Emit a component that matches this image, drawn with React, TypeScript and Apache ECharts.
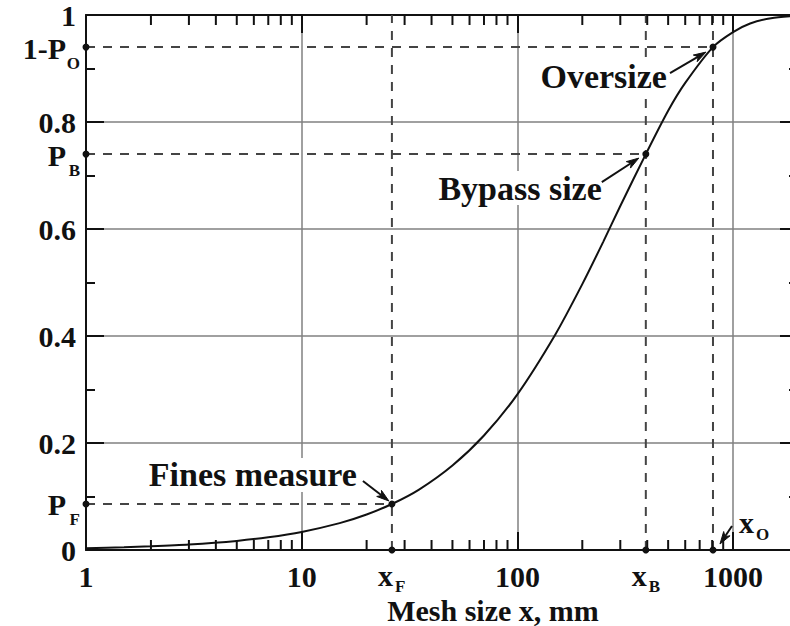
import React, { useEffect, useRef } from "react";
import * as echarts from "echarts";

// ---- data ----
const curveX = [1, 1.5, 2, 3, 5, 7, 10, 15, 20, 26.2, 35, 50, 70, 100, 150, 200, 250, 300, 394, 500, 600, 807, 1000, 1200, 1500, 2000];
const curveP = [0.0034, 0.0051, 0.0069, 0.0103, 0.017, 0.0238, 0.0338, 0.0502, 0.0664, 0.086, 0.113, 0.158, 0.214, 0.291, 0.403, 0.497, 0.576, 0.643, 0.74, 0.821, 0.873, 0.94, 0.968, 0.984, 0.994, 0.999];

const markX = [26.2, 394, 807]; // x_F, x_B, x_O
const markP = [0.086, 0.74, 0.94]; // P_F, P_B, 1-P_O
const markXMain = ["x", "x", "x"];
const markXSub = ["F", "B", "O"];
const markYMain = ["P", "P", "1-P"];
const markYSub = ["F", "B", "O"];
const markNames = ["Fines measure", "Bypass size", "Oversize"];

const xMajorTicks = [1, 10, 100, 1000];
const xMinorTicks = [2, 3, 4, 5, 6, 7, 8, 9, 20, 30, 40, 50, 60, 70, 80, 90, 200, 300, 400, 500, 600, 700, 800, 900];
const xMin = 1;
const xMax = 2000;
const yTicks = [0, 0.2, 0.4, 0.6, 0.8, 1];
const xAxisName = "Mesh size x, mm";

// ---- styles ----
const FONT = '"Liberation Serif", "Times New Roman", serif';
const INK = "#111";
const GRID = "#808080";
const DASH = "#444";

// annotation offsets (pixels relative to marked point)
const annoText = [
  [-35, -29],
  [-44, 34],
  [-46, 29],
];
const annoArrow = [
  [-29, -23, -3, -3],
  [-44, 28, -7, 4],
  [-43, 26, -7, 5],
];

function arrowEls(x0: number, y0: number, x1: number, y1: number) {
  const a = Math.atan2(y1 - y0, x1 - x0);
  const L = 13;
  const s = 0.3;
  const p1 = [x1 - L * Math.cos(a - s), y1 - L * Math.sin(a - s)];
  const p2 = [x1 - L * Math.cos(a + s), y1 - L * Math.sin(a + s)];
  const n = [x1 - 9 * Math.cos(a), y1 - 9 * Math.sin(a)];
  return [
    { type: "line", shape: { x1: x0, y1: y0, x2: n[0], y2: n[1] }, style: { stroke: INK, lineWidth: 2 } },
    { type: "polygon", shape: { points: [[x1, y1], p1, n, p2] }, style: { fill: INK, stroke: INK, lineWidth: 1 } },
  ];
}

function txt(text: string, x: number, y: number, size: number, align: string, extra: any = {}) {
  return {
    type: "text",
    style: {
      text,
      x,
      y,
      fontSize: size,
      fontWeight: "bold",
      fontFamily: FONT,
      fill: INK,
      align,
      verticalAlign: "middle",
      ...extra,
    },
  };
}

export default function App() {
  const ref = useRef<HTMLDivElement>(null);

  useEffect(() => {
    const chart = echarts.init(ref.current!, null, { renderer: "svg" });

    const axisLine = { show: true, onZero: false, lineStyle: { color: INK, width: 2 } };
    const majorTick = { show: true, inside: true, length: 18, lineStyle: { color: INK, width: 2 } };

    const option: any = {
      animation: false,
      backgroundColor: "#fff",
      grid: { left: 86, top: 15, width: 712, height: 535, containLabel: false, outerBoundsMode: "none" },
      xAxis: [
        {
          type: "log",
          logBase: 10,
          min: xMin,
          max: xMax,
          position: "bottom",
          axisLine,
          axisTick: majorTick,
          splitLine: { show: true, lineStyle: { color: GRID, width: 1.5 } },
          axisLabel: {
            margin: 11,
            fontSize: 30,
            fontWeight: "bold",
            fontFamily: FONT,
            color: INK,
            showMaxLabel: false,
            formatter: (v: number) => {
              const r = Math.round(v);
              return xMajorTicks.includes(r) ? String(r) : "";
            },
          },
          name: xAxisName,
          nameLocation: "middle",
          nameGap: 42,
          nameTextStyle: {
            fontSize: 30,
            fontWeight: "bold",
            fontFamily: FONT,
            color: INK,
            padding: [0, 0, 0, 102],
          },
        },
        {
          type: "log",
          logBase: 10,
          min: xMin,
          max: xMax,
          position: "top",
          axisLine,
          axisTick: majorTick,
          splitLine: { show: false },
          axisLabel: { show: false },
        },
      ],
      yAxis: [
        {
          type: "value",
          min: yTicks[0],
          max: yTicks[yTicks.length - 1],
          interval: yTicks[1] - yTicks[0],
          position: "left",
          axisLine,
          axisTick: majorTick,
          minorTick: { show: true, splitNumber: 2, length: 9, lineStyle: { color: INK, width: 2 } },
          splitLine: { show: true, lineStyle: { color: GRID, width: 1.5 } },
          axisLabel: {
            margin: 10,
            fontSize: 30,
            fontWeight: "bold",
            fontFamily: FONT,
            color: INK,
          },
        },
        {
          type: "value",
          min: yTicks[0],
          max: yTicks[yTicks.length - 1],
          interval: yTicks[1] - yTicks[0],
          position: "right",
          axisLine,
          axisTick: majorTick,
          minorTick: { show: true, splitNumber: 2, length: 9, lineStyle: { color: INK, width: 2 } },
          splitLine: { show: false },
          axisLabel: { show: false },
        },
      ],
      series: [
        // dashed guide lines
        {
          type: "custom",
          z: 2,
          silent: true,
          clip: false,
          data: markX.map((x, i) => [x, markP[i], i]),
          renderItem: (_p: any, api: any) => {
            const x = api.value(0);
            const p = api.value(1);
            const pt = api.coord([x, p]);
            const b = api.coord([x, yTicks[0]]);
            const t = api.coord([x, yTicks[yTicks.length - 1]]);
            const l = api.coord([xMin, p]);
            const ls = { stroke: DASH, lineWidth: 2, lineDash: [9, 8] };
            return {
              type: "group",
              children: [
                { type: "line", shape: { x1: b[0], y1: b[1], x2: t[0], y2: t[1] }, style: ls },
                { type: "line", shape: { x1: l[0], y1: l[1], x2: pt[0], y2: pt[1] }, style: ls },
              ],
            };
          },
        },
        // minor log ticks (bottom and top)
        {
          type: "custom",
          z: 2,
          silent: true,
          clip: false,
          data: xMinorTicks.map((v) => [v, 0]),
          renderItem: (_p: any, api: any) => {
            const v = api.value(0);
            const b = api.coord([v, yTicks[0]]);
            const t = api.coord([v, yTicks[yTicks.length - 1]]);
            const st = { stroke: INK, lineWidth: 2 };
            return {
              type: "group",
              children: [
                { type: "line", shape: { x1: b[0], y1: b[1], x2: b[0], y2: b[1] - 10 }, style: st },
                { type: "line", shape: { x1: t[0], y1: t[1], x2: t[0], y2: t[1] + 10 }, style: st },
              ],
            };
          },
        },
        // the curve
        {
          type: "line",
          z: 3,
          silent: true,
          data: curveX.map((x, i) => [x, curveP[i]]),
          showSymbol: false,
          smooth: 0.25,
          lineStyle: { color: INK, width: 2 },
        },
        // annotations and special axis labels
        {
          type: "custom",
          z: 4,
          silent: true,
          clip: false,
          data: markX.map((x, i) => [x, markP[i], i]),
          renderItem: (_p: any, api: any) => {
            const x = api.value(0);
            const p = api.value(1);
            const i = api.value(2);
            const pt = api.coord([x, p]);
            const b = api.coord([x, yTicks[0]]);
            const l = api.coord([xMin, p]);
            const children: any[] = [];
            children.push(
              txt(markNames[i], pt[0] + annoText[i][0], pt[1] + annoText[i][1], 34, "right", {
                backgroundColor: "#fff",
              })
            );
            const a = annoArrow[i];
            children.push(...arrowEls(pt[0] + a[0], pt[1] + a[1], pt[0] + a[2], pt[1] + a[3]));
            children.push(txt(markYMain[i], l[0] - 20, l[1] + 1, 30, "right"));
            children.push(txt(markYSub[i], l[0] - 6, l[1] + 16, 17, "right"));
            if (i < 2) {
              children.push(txt(markXMain[i], b[0] + 1, b[1] + 25, 30, "right"));
              children.push(txt(markXSub[i], b[0] + 3, b[1] + 36, 17, "left"));
            } else {
              children.push(txt(markXMain[i], b[0] + 26, b[1] - 28, 30, "left"));
              children.push(txt(markXSub[i], b[0] + 43, b[1] - 16, 17, "left"));
              children.push(...arrowEls(b[0] + 19, b[1] - 24, b[0] + 7, b[1] - 6));
            }
            return { type: "group", children };
          },
        },
        // dots
        {
          type: "custom",
          z: 5,
          silent: true,
          clip: false,
          data: markX.map((x, i) => [x, markP[i]]),
          renderItem: (_p: any, api: any) => {
            const x = api.value(0);
            const p = api.value(1);
            const pts = [api.coord([x, p]), api.coord([x, yTicks[0]]), api.coord([xMin, p])];
            return {
              type: "group",
              children: pts.map((c) => ({
                type: "circle",
                shape: { cx: c[0], cy: c[1], r: 3.5 },
                style: { fill: INK },
              })),
            };
          },
        },
      ],
    };

    chart.setOption(option);
    return () => chart.dispose();
  }, []);

  return (
    <div
      ref={ref}
      style={{ position: "absolute", left: 0, top: 0, width: 790, height: 626, overflow: "hidden", background: "#fff" }}
    />
  );
}
